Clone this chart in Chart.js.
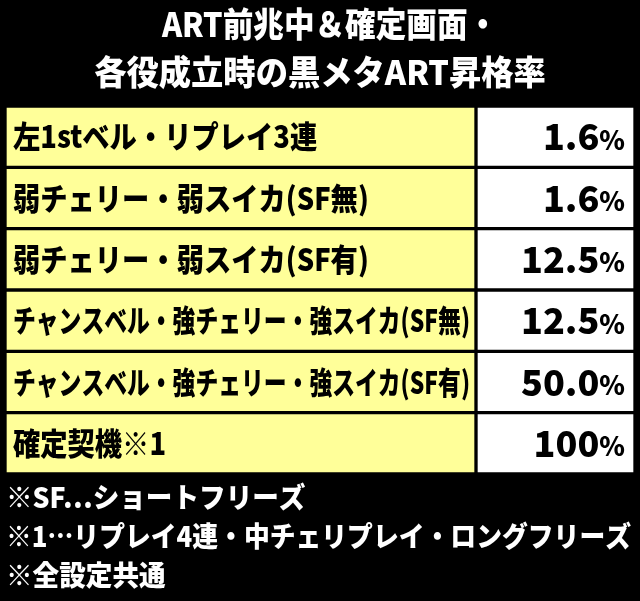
<!DOCTYPE html>
<html><head><meta charset="utf-8">
<script src="https://cdn.jsdelivr.net/npm/chart.js@4/dist/chart.umd.min.js"></script>
<style>html,body{margin:0;background:#000;}#c{display:block;}</style>
</head><body>
<div style="width:640px;height:601px"><canvas id="c"></canvas></div>
<script>
const titleLines = ["ART前兆中＆確定画面・", "各役成立時の黒メタART昇格率"];
const rowLabels = ["左1stベル・リプレイ3連", "弱チェリー・弱スイカ(SF無)", "弱チェリー・弱スイカ(SF有)",
  "チャンスベル・強チェリー・強スイカ(SF無)", "チャンスベル・強チェリー・強スイカ(SF有)", "確定契機※1"];
const rateNums = ["1.6", "1.6", "12.5", "12.5", "50.0", "100"];
const rateUnits = ["%", "%", "%", "%", "%", "%"];
const notes = ["※SF…ショートフリーズ", "※1…リプレイ4連・中チェリプレイ・ロングフリーズ", "※全設定共通"];

const FONT = '"Noto Sans CJK JP", "Noto Sans", sans-serif';

// draw text squeezed horizontally, never wider than maxW
function squeezed(ctx, txt, x, y, sx, maxW) {
  const w = ctx.measureText(txt).width * sx;
  const s = maxW && w > maxW ? sx * maxW / w : sx;
  ctx.save();
  ctx.translate(x, y);
  ctx.scale(s, 1);
  ctx.fillText(txt, 0, 0);
  ctx.restore();
}

const textPlugin = {
  id: 'tableText',
  afterDatasetsDraw(chart) {
    const ctx = chart.ctx;
    ctx.save();
    ctx.fillStyle = '#fff';
    ctx.textAlign = 'center';
    ctx.textBaseline = 'middle';
    ctx.font = '900 34px ' + FONT;
    squeezed(ctx, titleLines[0], 330, 24, 0.9);
    squeezed(ctx, titleLines[1], 320, 72, 0.95);

    const labelBars = chart.getDatasetMeta(0).data;
    const valueBars = chart.getDatasetMeta(1).data;
    ctx.fillStyle = '#000';
    labelBars.forEach((bar, i) => {
      ctx.textAlign = 'left';
      ctx.font = '900 31px ' + FONT;
      squeezed(ctx, rowLabels[i], bar.base + 8, bar.y, 0.88, bar.x - bar.base - 14);
    });
    valueBars.forEach((bar, i) => {
      const right = bar.x - 10;
      ctx.textAlign = 'right';
      ctx.font = '900 26px ' + FONT;
      const uw = ctx.measureText(rateUnits[i]).width;
      ctx.fillText(rateUnits[i], right, bar.y + 3);
      ctx.font = '900 36px ' + FONT;
      ctx.fillText(rateNums[i], right - uw, bar.y);
    });

    ctx.fillStyle = '#fff';
    ctx.textAlign = 'left';
    ctx.font = '900 28px ' + FONT;
    notes.forEach((n, i) => squeezed(ctx, n, 6, 497 + i * 39, 0.95, 625));
    ctx.restore();
  }
};

new Chart(document.getElementById('c'), {
  type: 'bar',
  data: {
    labels: rowLabels,
    datasets: [
      { data: rowLabels.map(() => [5, 476]), backgroundColor: '#ffff99', borderColor: '#000', borderWidth: 2, borderSkipped: false },
      { data: rateNums.map(() => [476, 635]), backgroundColor: '#fff', borderColor: '#000', borderWidth: 2, borderSkipped: false }
    ]
  },
  options: {
    indexAxis: 'y',
    responsive: true,
    maintainAspectRatio: false,
    animation: false,
    layout: { padding: { top: 106, bottom: 127, left: 0, right: 0 } },
    datasets: { bar: { grouped: false, barPercentage: 1, categoryPercentage: 1 } },
    plugins: { legend: { display: false }, tooltip: { enabled: false } },
    scales: {
      x: { type: 'linear', min: 0, max: 640, display: false },
      y: { display: false }
    }
  },
  plugins: [textPlugin]
});
</script>
</body></html>
